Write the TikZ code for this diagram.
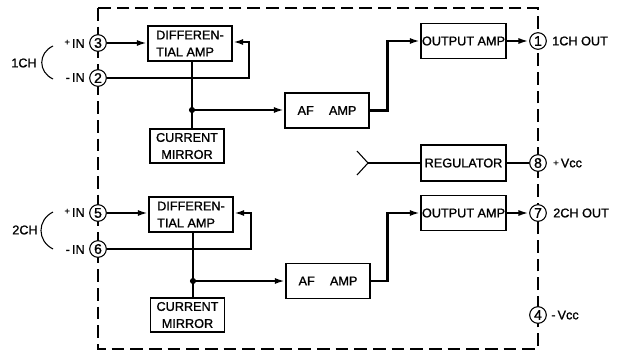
\documentclass[tikz,border=0pt]{standalone}
\usepackage{fontspec}
\setmainfont[FakeBold=1.2,AutoFakeBold=1.2]{Liberation Sans}
\usetikzlibrary{arrows.meta}
\begin{document}
\begin{tikzpicture}[x=0.75pt,y=-0.75pt,
  box/.style={draw,line width=0.8pt,inner sep=0pt,align=left,font=\bfseries\fontsize{9.5}{12.75}\selectfont},
  dabox/.style={box,minimum width=63pt,minimum height=26.25pt},
  cmbox/.style={box,align=center,minimum width=55.5pt,minimum height=25.5pt},
  wbox/.style={box,minimum width=63.75pt,minimum height=26.25pt},
  pin/.style={draw,circle,fill=white,line width=0.8pt,minimum size=12.5pt,inner sep=0pt,font=\bfseries\fontsize{10.5}{10.5}\selectfont},
  sig/.style={line width=2.2pt},
  wire/.style={line width=0.8pt},
  arr/.style={-{Latex[length=8pt,width=4.5pt]}},
  lbl/.style={font=\bfseries\fontsize{9.5}{10}\selectfont,inner sep=0pt},
  border/.style={dash pattern=on 9.5pt off 4.5pt,line width=1.1pt}]
\useasboundingbox (0,0) rectangle (624,357);
% border
\draw[border] (98,8) rectangle (538,349);
% pins
\node[pin] (pin3) at (98,43) {3};
\node[pin] (pin2) at (98,78) {2};
\node[pin] (pin5) at (98,213) {5};
\node[pin] (pin6) at (98,249) {6};
\node[pin] (pin1) at (538,41) {1};
\node[pin] (pin8) at (538,163) {8};
\node[pin] (pin7) at (538,213) {7};
\node[pin] (pin4) at (538,315) {4};
% boxes channel 1
\node[dabox] (da1) at (190,43.5) {DIFFEREN-\\TIAL AMP};
\node[cmbox] (cm1) at (187,146) {CURRENT\\MIRROR};
\node[dabox] (af1) at (327,110.5) {AF\hspace{1.2em}AMP};
\node[wbox] (oa1) at (463.5,41) {OUTPUT AMP};
\node[wbox,minimum height=27pt] (reg) at (463.5,163) {REGULATOR};
% boxes channel 2
\node[dabox] (da2) at (191,214.5) {DIFFEREN-\\TIAL AMP};
\node[cmbox] (cm2) at (187.5,315) {CURRENT\\MIRROR};
\node[dabox] (af2) at (328,281) {AF\hspace{1.2em}AMP};
\node[wbox] (oa2) at (463.5,213) {OUTPUT AMP};
% channel 1 wiring
\draw[sig,arr] (pin3.east) -- (pin3 -| da1.west);
\coordinate (fb1) at (249,78);
\coordinate (fb1t) at (249,42);
\draw[sig,arr] (pin2.east) -- (fb1) -- (fb1t) -- (fb1t -| da1.east);
\coordinate (j1) at (192,110);
\draw[sig] (da1.south -| j1) -- (j1);
\draw[wire] (j1) -- (cm1.north -| j1);
\draw[sig,arr] (j1) -- (j1 -| af1.west);
\fill (j1) circle (2.3pt);
\draw[sig,arr] (af1.east) -- ++(18,0) |- (oa1.west);
\draw[sig,arr] (oa1.east) -- (pin1.west);
% channel 2 wiring
\draw[sig,arr] (pin5.east) -- (pin5 -| da2.west);
\coordinate (fb2) at (251,249);
\coordinate (fb2t) at (251,213);
\draw[sig,arr] (pin6.east) -- (fb2) -- (fb2t) -- (fb2t -| da2.east);
\coordinate (j2) at (193,281);
\draw[sig] (da2.south -| j2) -- (j2);
\draw[wire] (j2) -- (cm2.north -| j2);
\draw[sig,arr] (j2) -- (j2 -| af2.west);
\fill (j2) circle (2.3pt);
\draw[sig,arr] (af2.east) -- ++(17,0) |- (oa2.west);
\draw[sig,arr] (oa2.east) -- (pin7.west);
% regulator
\coordinate (rin) at (368,163);
\coordinate (ru) at (357,151);
\coordinate (rd) at (357,175);
\draw[wire] (reg.east) -- (pin8.west);
\draw[wire] (reg.west) -- (rin);
\draw[wire] (ru) -- (rin) -- (rd);
% brackets
\coordinate (b1a) at (53,46);
\coordinate (b1b) at (53,79);
\draw[wire] (b1a) .. controls (38,53) and (38,72) .. (b1b);
\coordinate (b2a) at (53,212);
\coordinate (b2b) at (53,249);
\draw[wire] (b2a) .. controls (37,220) and (37,241) .. (b2b);
% labels
\node[lbl,anchor=east] (lp3) at (85,43.5) {{\fontsize{7}{7}\selectfont\raisebox{2pt}{+}}\,IN};
\node[lbl,anchor=east] (lp2) at (85,77.5) {-\,IN};
\node[lbl,anchor=east] (lp5) at (85,212.5) {{\fontsize{7}{7}\selectfont\raisebox{2pt}{+}}\,IN};
\node[lbl,anchor=east] (lp6) at (85,249.5) {-\,IN};
\node[lbl] (ch1) at (24,63) {1CH};
\node[lbl] (ch2) at (25,230) {2CH};
\node[lbl,anchor=west] (lo1) at (552,41) {1CH OUT};
\node[lbl,anchor=west] (lo8) at (553,163) {{\fontsize{7}{7}\selectfont\raisebox{1pt}{+}}\,Vcc};
\node[lbl,anchor=west] (lo7) at (553,213) {2CH OUT};
\node[lbl,anchor=west] (lo4) at (551,315) {-\,Vcc};
\end{tikzpicture}
\end{document}
